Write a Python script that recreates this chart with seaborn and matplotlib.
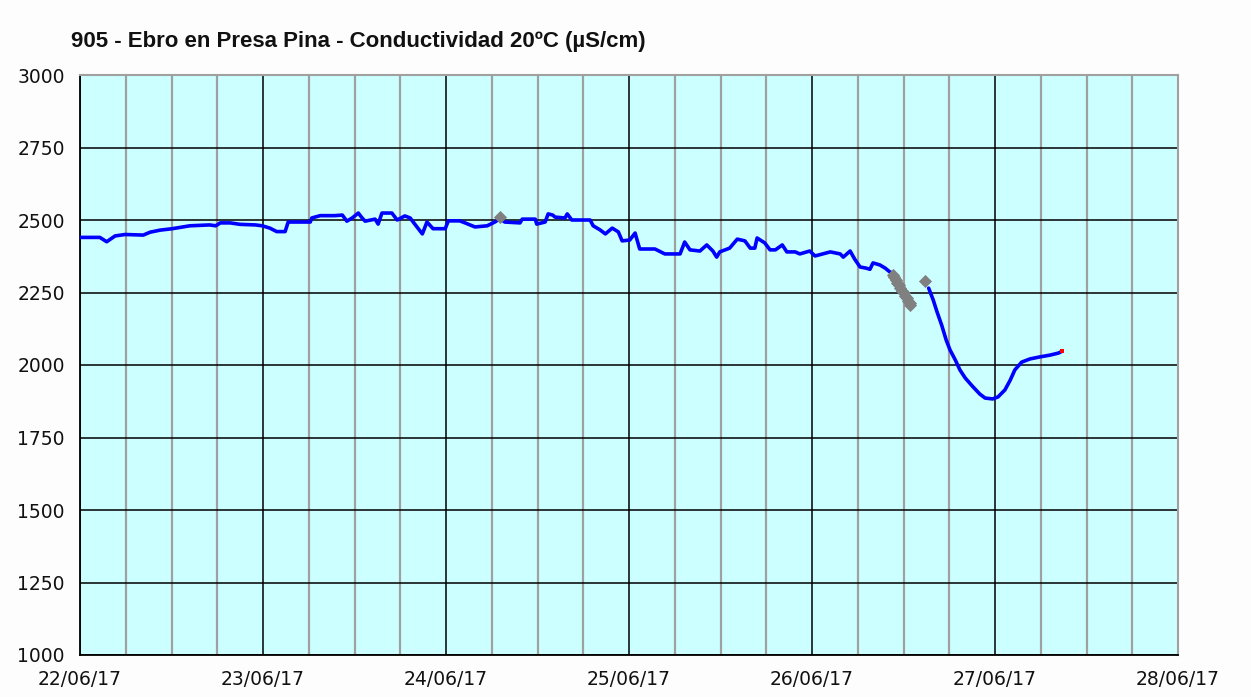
import numpy as np
import pandas as pd
import matplotlib
matplotlib.use("Agg")
import matplotlib.pyplot as plt
import seaborn as sns

# Hours since 22/06/17 00:00 and conductivity at 20 ºC (µS/cm), first stretch
horas = [
    0.0, 0.4, 2.6, 3.5, 4.6, 5.9, 8.3, 9.2, 10.5, 12.1,
    14.4, 17.0, 17.8, 18.4, 19.7, 21.0, 23.0, 23.9, 24.9, 25.8,
    26.9, 27.3, 28.9, 30.2, 30.4, 31.5, 33.4, 34.4, 35.0, 35.7,
    36.5, 37.0, 37.4, 38.7, 39.1, 39.6, 40.9, 41.6, 42.6, 43.3,
    43.9, 44.9, 45.5, 46.3, 47.9, 48.3, 49.8, 50.5, 51.8, 53.4,
    54.4, 55.1, 55.7, 57.7, 58.0, 59.7, 59.9, 61.0, 61.4, 62.0,
    62.3, 63.6, 63.9, 64.5, 66.9, 67.3, 68.2, 68.9, 69.8, 70.6,
    71.1, 72.1, 72.8, 73.4, 75.4, 76.7, 78.7, 79.3, 80.0, 81.3,
    82.2, 83.0, 83.5, 83.9, 85.2, 86.2, 87.2, 87.9, 88.5, 88.8,
    89.8, 90.5, 91.2, 92.1, 92.7, 93.8, 94.4, 95.7, 96.4, 98.4,
    99.7, 100.1, 101.0, 101.6, 102.3, 103.1, 103.6, 104.0, 104.9, 105.6,
    106.2, 106.6,
]
conductividad = [
    2440, 2440, 2440, 2425, 2445, 2450, 2448, 2458, 2465, 2470,
    2480, 2483, 2480, 2490, 2490, 2485, 2483, 2480, 2472, 2460,
    2460, 2493, 2493, 2493, 2507, 2515, 2515, 2517, 2496, 2507,
    2524, 2507, 2496, 2503, 2486, 2524, 2524, 2500, 2514, 2507,
    2486, 2452, 2493, 2470, 2470, 2497, 2497, 2490, 2476, 2480,
    2493, 2505, 2493, 2490, 2503, 2503, 2486, 2493, 2521, 2517,
    2510, 2507, 2521, 2500, 2500, 2480, 2466, 2452, 2472, 2459,
    2428, 2431, 2455, 2400, 2400, 2383, 2383, 2424, 2397, 2393,
    2414, 2393, 2372, 2390, 2403, 2434, 2428, 2403, 2403, 2438,
    2421, 2397, 2397, 2414, 2390, 2390, 2383, 2393, 2376, 2390,
    2383, 2372, 2393, 2365, 2338, 2334, 2330, 2352, 2345, 2334,
    2321, 2317,
]

# Second stretch, after the gap
horas_b = [
    111.3, 111.9, 112.4, 113.0, 113.6, 114.1, 114.8, 115.4, 116.1, 117.0,
    118.0, 118.7, 119.7, 120.4, 121.3, 122.0, 122.6, 123.5, 124.6, 125.9,
    127.2, 128.3, 128.7,
]
conductividad_b = [
    2265, 2224, 2183, 2138, 2086, 2052, 2017, 1983, 1955, 1928,
    1900, 1886, 1883, 1890, 1914, 1948, 1983, 2010, 2021, 2028,
    2034, 2041, 2046,
]

# Values flagged as not validated (grey) and the latest reading (red)
horas_gris = [55.1, 106.6, 106.8, 107.0, 107.2, 107.4, 107.6, 107.8, 108.0, 108.2,
              108.4, 108.6, 108.8, 108.9, 110.8]
conductividad_gris = [2510, 2312, 2302, 2293, 2284, 2275, 2265, 2256, 2247, 2238,
                      2230, 2221, 2213, 2208, 2288]
horas_ultimo = [128.8]
conductividad_ultimo = [2048]

etiquetas_x = ["22/06/17", "23/06/17", "24/06/17", "25/06/17", "26/06/17", "27/06/17", "28/06/17"]
ticks_y = [1000, 1250, 1500, 1750, 2000, 2250, 2500, 2750, 3000]

serie = pd.DataFrame({
    "horas": horas + horas_b,
    "conductividad": conductividad + conductividad_b,
    "tramo": [0] * len(horas) + [1] * len(horas_b),
})
gris = pd.DataFrame({"horas": horas_gris, "conductividad": conductividad_gris})
ultimo = pd.DataFrame({"horas": horas_ultimo, "conductividad": conductividad_ultimo})

sns.set_style("white")
plt.rcParams["font.family"] = ["DejaVu Sans"]

fig = plt.figure(figsize=(12.51, 6.97), dpi=100, facecolor="#fdfdfd")
ax = fig.add_axes([80 / 1251, 1 - 655 / 697, 1098 / 1251, 580 / 697])
ax.set_facecolor("#ccffff")

# Grid: quarter-day lines in grey, day and 250 µS/cm lines in black
for h in np.arange(0, 145, 6):
    if h % 24:
        ax.axvline(h, color="#a0a0a0", lw=1.6, zorder=1)
    else:
        ax.axvline(h, color="black", lw=1.1, zorder=1)
for v in ticks_y:
    ax.axhline(v, color="black", lw=1.1, zorder=1)

sns.lineplot(data=serie, x="horas", y="conductividad", units="tramo", estimator=None,
             sort=False, color="#0000ff", lw=2.6, ax=ax, zorder=3)
sns.scatterplot(data=gris, x="horas", y="conductividad", marker="D", s=45,
                color="#808080", edgecolor="#808080", linewidth=0, ax=ax, zorder=4)
sns.scatterplot(data=ultimo, x="horas", y="conductividad", marker="s", s=10,
                color="#ff0000", edgecolor="#ff0000", linewidth=0, ax=ax, zorder=5)

ax.set_xlim(0, 144)
ax.set_ylim(1000, 3000)
ax.set_xticks(np.arange(0, 145, 24))
ax.set_xticklabels(etiquetas_x)
ax.set_yticks(ticks_y)
ax.set_yticklabels([str(v) for v in ticks_y])
ax.set_xlabel("")
ax.set_ylabel("")
ax.tick_params(axis="both", direction="out", length=6, width=1.1, color="black",
               labelsize=13.5, labelcolor="#111111")
ax.tick_params(axis="x", pad=5)
ax.tick_params(axis="y", pad=5)

for side in ("left", "bottom"):
    ax.spines[side].set_color("black")
    ax.spines[side].set_linewidth(1.3)
for side in ("top", "right"):
    ax.spines[side].set_color("#a0a0a0")
    ax.spines[side].set_linewidth(1.5)

fig.text(71 / 1251, 1 - 42 / 697, "905 - Ebro en Presa Pina - Conductividad 20ºC (µS/cm)",
         fontsize=16, fontweight="bold", family="Liberation Sans", va="center",
         ha="left", color="#111111")

fig.savefig("out.png", dpi=100, facecolor=fig.get_facecolor())
